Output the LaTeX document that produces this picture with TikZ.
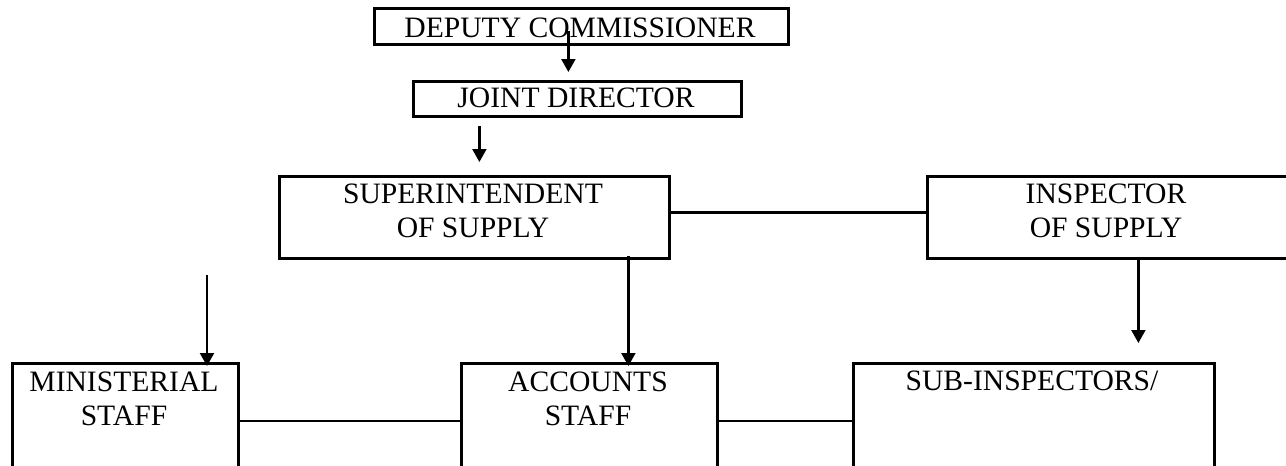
\documentclass[tikz,border=0pt]{standalone}
\usepackage{fontspec}
\setmainfont{Liberation Serif}
\usetikzlibrary{arrows.meta}
\begin{document}
\begin{tikzpicture}[x=1pt,y=-1pt,
  box/.style={draw, line width=2.8pt, inner sep=0pt, anchor=north west},
  lbl/.style={font=\fontsize{29.6}{33.5}\selectfont, inner sep=0pt, anchor=base, align=center},
  link/.style={line width=2.2pt},
  arr/.style={link, -{Triangle[length=13pt,width=14pt]}}]
\useasboundingbox (0,0) rectangle (1286,466);

% boxes of the organisation chart
\node[box, minimum width=414pt, minimum height=36pt] (dc)   at (373,7)   {};
\node[box, minimum width=328pt, minimum height=35pt] (jd)   at (412,80)  {};
\node[box, minimum width=390pt, minimum height=82pt] (sup)  at (278,175) {};
\node[box, minimum width=364pt, minimum height=82pt] (insp) at (926,175) {};
\node[box, minimum width=226pt, minimum height=130pt] (min) at (11,362)  {};
\node[box, minimum width=256pt, minimum height=130pt] (acc) at (460,362) {};
\node[box, minimum width=361pt, minimum height=130pt] (sub) at (852,362) {};

% titles (a node of two lines sits on the baseline of its last line)
\node[lbl] (dct)   at (580,37)  {DEPUTY COMMISSIONER};
\node[lbl] (jdt)   at (576,107) {JOINT DIRECTOR};
\node[lbl] (supt)  at (473,237) {SUPERINTENDENT\\OF SUPPLY};
\node[lbl] (inspt) at (1106,237) {INSPECTOR\\OF SUPPLY};
\node[lbl] (mint)  at (124,425) {MINISTERIAL\\STAFF};
\node[lbl] (acct)  at (588,425) {ACCOUNTS\\STAFF};
\node[lbl] (subt)  at (1032,390) {SUB-INSPECTORS/};

% connectors
\coordinate (minsrc) at (207,275);
\draw[arr] ([shift={(-13,-15)}]dc.south) -- ([shift={(-9,-8)}]jd.north);
\draw[arr] ([shift={(-98,8)}]jd.south) -- ([shift={(5,-13)}]sup.north);
\draw[link] ([shift={(0,-5)}]sup.east) -- ([shift={(0,-5)}]insp.west);
\draw[arr] ([shift={(154,-4)}]sup.south) -- ([shift={(39,4)}]acc.north);
\draw[arr] ([shift={(29,-3)}]insp.south) -- ([shift={(104.5,-19)}]sub.north);
\draw[arr] (minsrc) -- ([shift={(0,4)}]minsrc |- min.north);
\draw[link] ([shift={(0,59)}]min.north east) -- ([shift={(0,59)}]acc.north west);
\draw[link] ([shift={(0,59)}]acc.north east) -- ([shift={(0,59)}]sub.north west);
\end{tikzpicture}
\end{document}
